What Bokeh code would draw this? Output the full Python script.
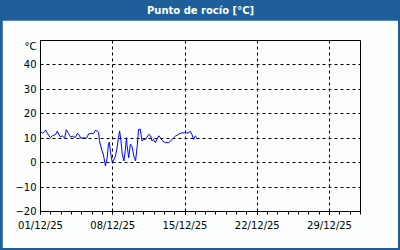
from datetime import datetime, timedelta
from bokeh.plotting import figure
from bokeh.layouts import column, row
from bokeh.models import (Label, FixedTicker, DatetimeTickFormatter, Range1d,
                          ColumnDataSource, Spacer)
from bokeh.embed import file_html
from bokeh.resources import INLINE

# ---- data ----
start = datetime(2025, 12, 1)
hours = [0, 5, 12, 16, 23, 28, 35, 39, 46, 51, 56, 60, 65, 70, 74, 81, 86, 91, 93,
         100, 107, 112, 118, 123, 128, 132, 135, 137, 139, 143, 146, 151, 155, 158,
         160, 163, 167, 170, 174, 178, 181, 184, 187, 190, 194, 197, 200, 201, 205,
         209, 213, 217, 221, 225, 228, 232, 236, 240, 244, 252, 256, 259, 263, 267,
         275, 279, 283, 290, 298, 306, 314, 321, 329, 337, 345, 348, 352, 356, 360, 364]
dew_point = [12.7, 12.0, 13.4, 12.0, 10.2, 11.0, 11.5, 12.9, 10.5, 11.0, 10.0, 13.5,
             12.0, 10.5, 10.8, 10.3, 12.0, 11.0, 10.0, 10.2, 10.0, 11.8, 12.0, 11.8,
             13.3, 12.9, 12.5, 9.0, 7.6, 4.8, 3.5, -1.3, 2.0, 7.6, 8.4, 4.0, 0.0, 1.0,
             2.5, 6.0, 10.0, 13.0, 9.0, 3.5, 0.7, 4.8, 10.2, 7.5, 2.0, 7.6, 6.5, 2.7,
             0.7, 7.0, 13.6, 13.7, 8.9, 9.5, 9.5, 11.6, 11.0, 8.9, 9.5, 8.2, 11.0,
             10.2, 9.0, 8.2, 8.2, 9.5, 10.9, 11.6, 12.2, 12.2, 12.2, 12.9, 11.6, 9.5,
             10.9, 10.2]
major_days = [1, 8, 15, 22, 29]
y_ticks = [-20, -10, 0, 10, 20, 30, 40]
title_text = "Punto de rocío [°C]"
unit_text = "°C"

times = [start + timedelta(hours=h) for h in hours]
src = ColumnDataSource(dict(t=times, v=dew_point))

def ms(d):
    return (d - datetime(1970, 1, 1)).total_seconds() * 1000.0

x0 = ms(start)
x1 = ms(datetime(2026, 1, 1))

BLUE = "#1f5f99"
BG = "#fbfefb"
FONT = "DejaVu Sans"

# ---- title bar ----
tf = figure(width=400, height=20, x_range=Range1d(0, 1), y_range=Range1d(0, 1),
            x_axis_location=None, y_axis_location=None, toolbar_location=None,
            output_backend="svg", min_border=0)
tf.grid.visible = False
tf.background_fill_color = BLUE
tf.border_fill_color = BLUE
tf.outline_line_color = None
tf.add_layout(Label(x=0.5, y=0.5, text=title_text, text_align="center",
                    text_baseline="middle", text_color="white", text_font=FONT,
                    text_font_style="bold", text_font_size="10px"))

# ---- main chart ----
p = figure(width=396, height=228, x_axis_type="datetime", output_backend="svg",
           toolbar_location=None, x_range=Range1d(x0, x1), y_range=Range1d(-20, 50),
           min_border_left=38, min_border_right=38, min_border_top=20, min_border_bottom=37)
p.background_fill_color = BG
p.border_fill_color = BG
p.outline_line_color = "black"
p.outline_line_width = 1

p.line("t", "v", source=src, line_color="#0000ff", line_width=1)

major = [ms(datetime(2025, 12, d)) for d in major_days]
minor = [ms(start + timedelta(days=i)) for i in range(32)]
p.xaxis.ticker = FixedTicker(ticks=major, minor_ticks=minor)
fmt = "%d/%m/%y"
p.xaxis.formatter = DatetimeTickFormatter(days=fmt, months=fmt, hours=fmt, years=fmt,
                                          minutes=fmt, seconds=fmt, hourmin=fmt,
                                          minsec=fmt, milliseconds=fmt, microseconds=fmt)
unit_pos = 47.5
p.yaxis.ticker = FixedTicker(ticks=y_ticks + [unit_pos])
p.yaxis.major_label_overrides = {unit_pos: unit_text}

for ax in (p.xaxis[0], p.yaxis[0]):
    ax.axis_line_color = "black"
    ax.major_tick_line_color = "black"
    ax.minor_tick_line_color = "black"
    ax.major_label_text_font = FONT
    ax.major_label_text_font_size = "10px"
    ax.major_label_text_color = "black"

p.xaxis.major_tick_out = 3
p.xaxis.major_tick_in = 0
p.xaxis.minor_tick_out = 3
p.xaxis.minor_tick_in = 0
p.xaxis.major_label_standoff = 5

p.yaxis.major_tick_out = 0
p.yaxis.major_tick_in = 0
p.yaxis.minor_tick_line_color = None
p.yaxis.major_label_standoff = 4

for g in (p.xgrid[0], p.ygrid[0]):
    g.grid_line_color = "black"
    g.grid_line_dash = "3 3"
    g.grid_line_width = 1
p.xgrid.ticker = FixedTicker(ticks=major[1:])
p.ygrid.ticker = FixedTicker(ticks=y_ticks[1:])

layout = column(tf,
                row(Spacer(width=2, height=228), p, Spacer(width=2, height=228), spacing=0),
                Spacer(width=400, height=2),
                spacing=0, styles={"background-color": BLUE})

open("out.html", "w").write(file_html(layout, INLINE))
